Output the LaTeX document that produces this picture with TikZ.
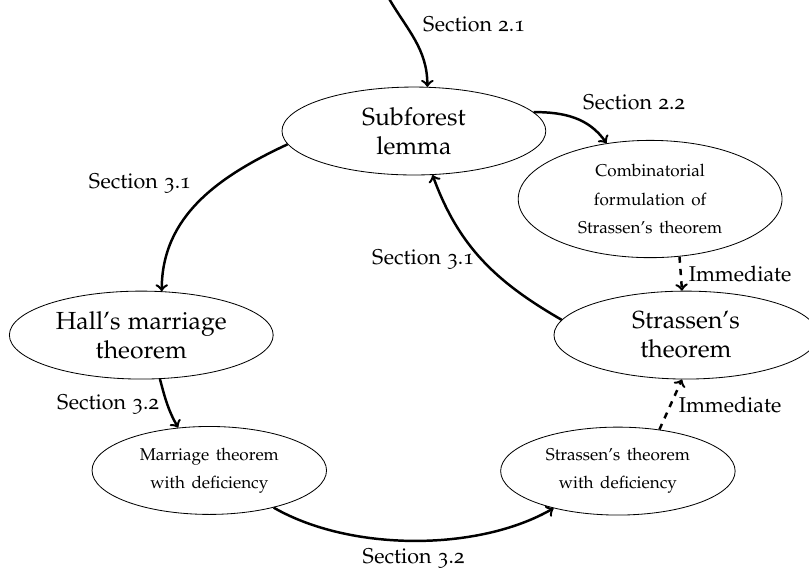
\documentclass[tikz,border=0pt]{standalone}
\usepackage[T1]{fontenc}
\usepackage[osf]{mathpazo}
\usetikzlibrary{shapes,arrows,positioning}
\tikzset{
	bignode/.style   = {ellipse, draw, align=center, font=\large,
		minimum width=4.5cm, minimum height=1.5cm},
	smallnode/.style = {bignode, minimum width=4cm,
		font={\fontsize{8.3pt}{13.7pt}\selectfont\spaceskip=0.38em plus 0.1em}},
	curve/.style     = {->, very thick},
	dcurve/.style    = {curve, dashed},
}

\begin{document}
\begin{tikzpicture}
[
every node/.style = {font={\fontsize{10.4pt}{12.5pt}\selectfont}}
]
\useasboundingbox (0,0) rectangle (13.80,-9.776);
\node [bignode] (subforest) at (7.06,-2.235) {Subforest\\lemma};
\node [bignode] (hall) at (2.41,-5.716) {Hall's marriage\\theorem};
\node [bignode] (strassen) at (11.70,-5.716) {Strassen's\\theorem};
\node [smallnode, minimum width=4.5cm, minimum height=2cm] (comb) at (11.09,-3.395) {
	Combinatorial\\formulation of\\Strassen's theorem
};
\node [smallnode] (marriage) at (3.57,-8.025) {Marriage theorem\\with deficiency};
\node [smallnode] (sdef) at (10.54,-8.036) {Strassen's theorem\\with deficiency};
\coordinate (top) at (6.62,0.05);

\draw [curve] (top) to[out=-60, in=90] node[above right] {Section 2.1} (subforest.73);
\draw [curve] (subforest.9) to[out=0, in=125] node[above right] {Section 2.2} (comb.128);
\draw [curve] (subforest.186) to[out=205, in=90] node[above left] {Section 3.1} (hall.65);
\draw [curve] (strassen.173) to[out=150, in=-70] node[left] {Section 3.1} (subforest.-67);
\draw [dcurve] (comb.-63) -- node[right] {Immediate} (strassen.95);
\draw [curve] (hall.-67) to[out=-75, in=120] node[left] {Section 3.2} (marriage.126);
\draw [curve] (marriage.-30) to[out=-30, in=210, looseness=0.8] node[below] {Section 3.2} (sdef.210);
\draw [dcurve] (sdef.45) -- node[right] {Immediate} (strassen.265);
\end{tikzpicture}
\end{document}
